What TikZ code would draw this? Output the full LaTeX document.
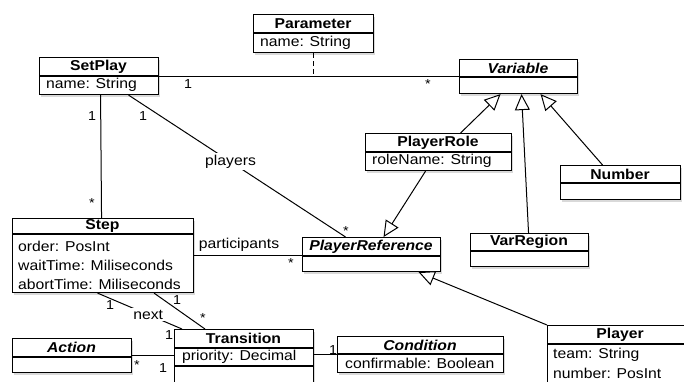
\documentclass[tikz,border=0pt]{standalone}
\usepackage{fontspec}
\setmainfont[FakeStretch=1.1]{Liberation Sans}
\usetikzlibrary{arrows.meta,shadows}
\newcommand\basefnt{\fontsize{14.3}{19}\selectfont}
\tikzset{
  clsbox/.style={draw, line width=1.1pt, fill=white, inner sep=0pt, anchor=north west,
    drop shadow={shadow xshift=1.5pt, shadow yshift=-2.5pt, opacity=0.3}},
  divline/.style={line width=1.1pt},
  ttl/.style={font=\basefnt\bfseries, inner sep=0pt},
  ittl/.style={font=\basefnt\bfseries\itshape, inner sep=0pt},
  attr/.style={font=\basefnt, anchor=west, inner sep=0pt},
  mult/.style={font=\fontsize{13}{13}\selectfont, inner sep=0pt},
  lbl/.style={font=\basefnt, fill=white, inner sep=2pt},
  assoc/.style={line width=1pt},
  gen/.style={line width=1pt, -{Triangle[open, fill=white, length=16pt, width=15pt]}},
}
\begin{document}
\begin{tikzpicture}[x=1pt, y=-1pt]
\useasboundingbox (0,0) rectangle (684,381);
\clip (0,0) rectangle (684,381);

% ---------- classes ----------
% Parameter
\node[clsbox, minimum width=120pt, minimum height=38pt] (param) at (253,14) {};
\draw[divline] (253,33) -- (373,33);
\node[ttl] (paramT) at (313,23.5) {Parameter};
\node[attr] (paramA) at (260,42.5) {name: String};

% SetPlay
\node[clsbox, minimum width=119pt, minimum height=37pt] (setplay) at (39,57) {};
\draw[divline] (39,76) -- (158,76);
\node[ttl] (setplayT) at (98.5,66.5) {SetPlay};
\node[attr] (setplayA) at (46,85) {name: String};

% Variable
\node[clsbox, minimum width=118pt, minimum height=34pt] (variable) at (459,59) {};
\draw[divline] (459,77) -- (577,77);
\node[ittl] (variableT) at (518,68) {Variable};

% PlayerRole
\node[clsbox, minimum width=146pt, minimum height=37pt] (prole) at (365,133) {};
\draw[divline] (365,152) -- (511,152);
\node[ttl] (proleT) at (438,142.5) {PlayerRole};
\node[attr] (proleA) at (372,161) {roleName: String};

% Number
\node[clsbox, minimum width=120pt, minimum height=34pt] (number) at (560,165) {};
\draw[divline] (560,183) -- (680,183);
\node[ttl] (numberT) at (620,174) {Number};

% VarRegion
\node[clsbox, minimum width=118pt, minimum height=33pt] (vreg) at (470,233) {};
\draw[divline] (470,251) -- (588,251);
\node[ttl] (vregT) at (529,242) {VarRegion};

% PlayerReference
\node[clsbox, minimum width=138pt, minimum height=34pt] (pref) at (302,237) {};
\draw[divline] (302,256) -- (440,256);
\node[ittl] (prefT) at (371,246.5) {PlayerReference};

% Step
\node[clsbox, minimum width=181pt, minimum height=74pt] (step) at (12,218) {};
\draw[divline] (12,234) -- (193,234);
\node[ttl] (stepT) at (102.5,226) {Step};
\node[attr] (stepA1) at (18,246) {order: PosInt};
\node[attr] (stepA2) at (18,265) {waitTime: Miliseconds};
\node[attr] (stepA3) at (18,284) {abortTime: Miliseconds};

% Action
\node[clsbox, minimum width=119pt, minimum height=34pt] (action) at (12,338) {};
\draw[divline] (12,357) -- (131,357);
\node[ittl] (actionT) at (71.5,347.5) {Action};

% Transition
\node[clsbox, minimum width=139pt, minimum height=72pt] (trans) at (174,329) {};
\draw[divline] (174,348) -- (313,348);
\draw[divline] (174,366) -- (313,366);
\node[ttl] (transT) at (243.5,338.5) {Transition};
\node[attr] (transA) at (182,357) {priority: Decimal};

% Condition
\node[clsbox, minimum width=166pt, minimum height=36pt] (cond) at (337,336) {};
\draw[divline] (337,354) -- (503,354);
\node[ittl] (condT) at (420,345) {Condition};
\node[attr] (condA) at (345,363) {confirmable: Boolean};

% Player
\node[clsbox, minimum width=146pt, minimum height=95pt] (player) at (547,325) {};
\draw[divline] (547,344) -- (693,344);
\node[ttl] (playerT) at (620,335) {Player};
\node[attr] (playerA1) at (553,355) {team: String};
\node[attr] (playerA2) at (553,373) {number: PosInt};

% ---------- associations ----------
\draw[assoc] (setplay.east) -- (setplay.east -| variable.west);
\draw[assoc, dashed, dash pattern=on 5pt off 3pt] (param.south) -- (param.south |- setplay.east);
\draw[assoc] ([xshift=1.5pt]setplay.south) -- ([xshift=-1.5pt]step.north);
\draw[assoc] ([xshift=29.5pt]setplay.south) -- node[lbl, pos=0.47] (playersL) {players} ([xshift=-26pt]pref.north);
\draw[assoc] (step.east) -- (step.east -| pref.west);
\node[font=\basefnt, inner sep=0pt] (partL) at (239,245) {participants};
\draw[assoc] ([xshift=-5.5pt]step.south) -- node[lbl, pos=0.6] (nextL) {next} ([xshift=8pt]trans.north west);
\draw[assoc] ([xshift=51pt]step.south) -- ([xshift=31pt]trans.north west);
\draw[assoc] (action.east) -- (action.east -| trans.west);
\draw[assoc] (cond.west) -- (cond.west -| trans.east);

% ---------- generalizations ----------
\draw[gen] ([xshift=22pt]prole.north) -- ([xshift=-18pt]variable.south);
\draw[gen] ([xshift=-1pt]vreg.north) -- ([xshift=3pt]variable.south);
\draw[gen] ([xshift=-18pt]number.north) -- ([xshift=22pt]variable.south);
\draw[gen] ([xshift=-13pt]prole.south) -- ([xshift=12pt]pref.north);
\draw[gen] (player.north west) -- ([xshift=47pt]pref.south);

% ---------- multiplicities ----------
\node[mult] (m1) at (188,84) {1};
\node[mult] (m2) at (428,84) {*};
\node[mult] (m3) at (92,116) {1};
\node[mult] (m4) at (143,116) {1};
\node[mult] (m5) at (92,203) {*};
\node[mult] (m6) at (346,231) {*};
\node[mult] (m7) at (291,263) {*};
\node[mult] (m8) at (110,305) {1};
\node[mult] (m9) at (177,300) {1};
\node[mult] (m10) at (203,318) {*};
\node[mult] (m11) at (169,335) {1};
\node[mult] (m12) at (137,365) {*};
\node[mult] (m13) at (163,368) {1};
\node[mult] (m14) at (333,350) {1};
\end{tikzpicture}
\end{document}
